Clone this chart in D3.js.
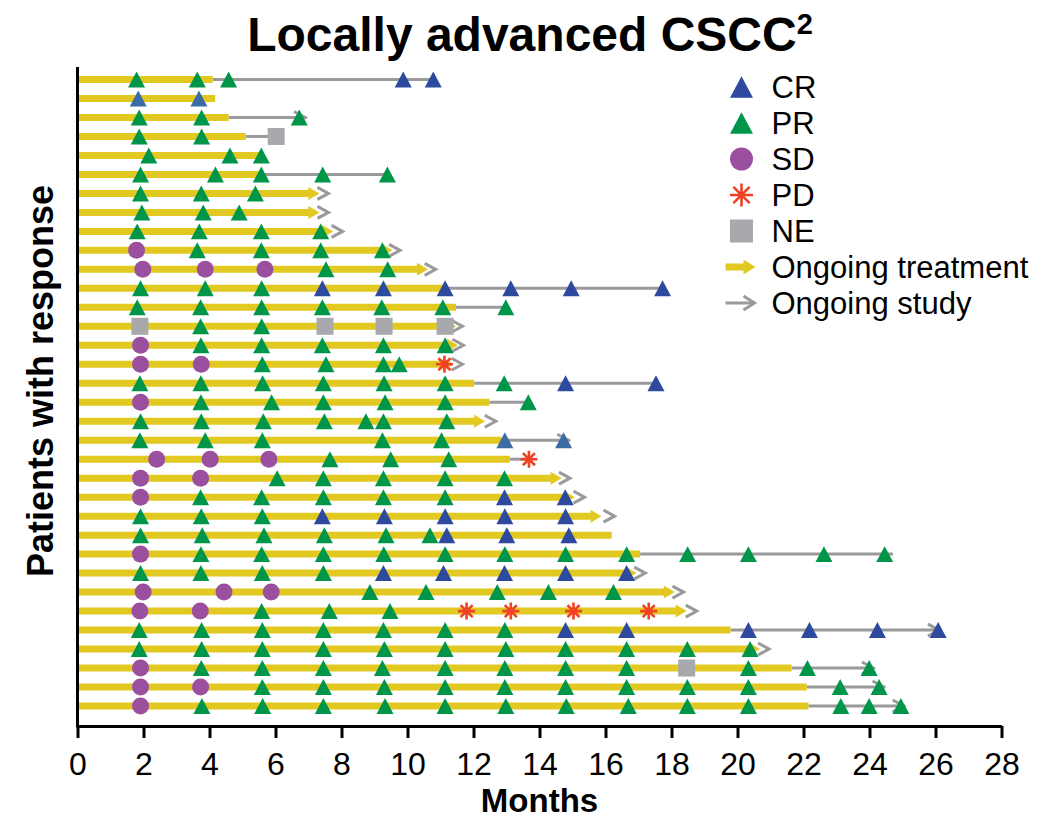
<!DOCTYPE html>
<html>
<head>
<meta charset="utf-8">
<script src="https://cdn.jsdelivr.net/npm/d3@7"></script>
<style>
  body { margin: 0; background: #fff; }
  svg { display: block; }
  text { font-family: "Liberation Sans", Arial, Helvetica, sans-serif; fill: #000; }
</style>
</head>
<body>
<svg id="chart" width="1043" height="820"></svg>
<script>
// months where the yellow (treatment) bar ends, top patient first
const treatEnd = [4.1, 4.17, 4.58, 5.1, 5.5, 5.57, 7.33, 7.33, 7.75, 9.55, 10.62, 11.08, 11.47, 11.47, 11.53, 11.4, 12.02,
  12.48, 12.35, 12.85, 13.1, 14.67, 15.07, 15.88, 16.19, 17.05, 16.94, 18.1, 18.46, 19.79, 20.68, 21.64, 22.1, 22.15];
// months where the grey (study follow-up) line ends
const studyEnd = [10.78, 4.17, 6.94, 6.02, 5.5, 9.39, 7.65, 7.65, 8.08, 9.82, 10.9, 17.73, 12.98, 11.71, 11.74, 11.71, 17.53,
  13.66, 12.72, 14.92, 13.68, 14.97, 15.41, 16.32, 16.19, 24.71, 17.25, 18.41, 18.81, 26.15, 21.0, 24.15, 24.47, 25.08];
const ongoingTreatment = [0,0,0,0,0,0,1,1,1,1,1,0,0,1,1,1,0,0,1,0,0,1,1,1,0,0,1,1,1,0,1,0,0,0];
const ongoingStudy     = [0,0,1,0,0,0,1,1,1,1,1,0,0,1,1,1,0,0,1,1,0,1,1,1,0,0,1,1,1,1,1,1,1,1];

// tumour assessments per patient: [month, response]
const responses = [
  [[1.79,"PR"],[3.63,"PR"],[4.58,"PR"],[9.87,"CR"],[10.78,"CR"]],
  [[1.84,"CRb"],[3.68,"CRb"]],
  [[1.87,"PR"],[3.76,"PR"],[6.72,"PR"]],
  [[1.87,"PR"],[3.76,"PR"],[6.02,"NE"]],
  [[2.16,"PR"],[4.62,"PR"],[5.57,"PR"]],
  [[1.91,"PR"],[4.18,"PR"],[5.57,"PR"],[7.43,"PR"],[9.39,"PR"]],
  [[1.91,"PR"],[3.75,"PR"],[5.39,"PR"]],
  [[1.95,"PR"],[3.81,"PR"],[4.9,"PR"]],
  [[1.81,"PR"],[3.69,"PR"],[5.57,"PR"],[7.37,"PR"]],
  [[1.79,"SD"],[3.63,"PR"],[5.57,"PR"],[7.37,"PR"],[9.24,"PR"]],
  [[1.98,"SD"],[3.87,"SD"],[5.68,"SD"],[7.53,"PR"],[9.4,"PR"]],
  [[1.91,"PR"],[3.87,"PR"],[5.58,"PR"],[7.42,"CR"],[9.27,"CR"],[11.14,"CR"],[13.13,"CR"],[14.96,"CR"],[17.73,"CR"]],
  [[1.81,"PR"],[3.73,"PR"],[5.58,"PR"],[7.42,"PR"],[9.22,"PR"],[11.07,"PR"],[12.98,"PR"]],
  [[1.89,"NE"],[3.73,"PR"],[5.58,"PR"],[7.5,"NE"],[9.29,"NE"],[11.14,"NE"]],
  [[1.91,"SD"],[3.74,"PR"],[5.58,"PR"],[7.42,"PR"],[9.27,"PR"],[11.14,"PR"]],
  [[1.91,"SD"],[3.75,"SD"],[5.6,"PR"],[7.53,"PR"],[9.27,"PR"],[9.75,"PR"],[11.12,"PD"]],
  [[1.89,"PR"],[3.74,"PR"],[5.61,"PR"],[7.45,"PR"],[9.29,"PR"],[11.14,"PR"],[12.93,"PR"],[14.79,"CR"],[17.53,"CR"]],
  [[1.91,"SD"],[3.74,"PR"],[5.88,"PR"],[7.45,"PR"],[9.32,"PR"],[11.14,"PR"],[13.66,"PR"]],
  [[1.91,"PR"],[3.75,"PR"],[5.63,"PR"],[7.48,"PR"],[8.74,"PR"],[9.27,"PR"],[11.19,"PR"]],
  [[1.89,"PR"],[3.87,"PR"],[5.6,"PR"],[9.24,"PR"],[11.03,"PR"],[12.95,"CRb"],[14.73,"CRb"]],
  [[2.4,"SD"],[4.02,"SD"],[5.8,"SD"],[7.65,"PR"],[9.49,"PR"],[11.25,"PR"],[13.68,"PD"]],
  [[1.91,"SD"],[3.73,"SD"],[6.05,"PR"],[7.45,"PR"],[9.27,"PR"],[11.14,"PR"],[12.94,"PR"]],
  [[1.91,"SD"],[3.73,"PR"],[5.58,"PR"],[7.45,"PR"],[9.27,"PR"],[11.14,"PR"],[12.94,"CR"],[14.78,"CR"]],
  [[1.91,"PR"],[3.75,"PR"],[5.6,"PR"],[7.42,"CR"],[9.3,"CR"],[11.14,"CR"],[12.95,"CR"],[14.79,"CR"]],
  [[1.91,"PR"],[3.78,"PR"],[5.65,"PR"],[7.48,"PR"],[9.35,"PR"],[10.68,"PR"],[11.19,"CR"],[13.01,"CR"],[14.89,"CR"]],
  [[1.91,"SD"],[3.74,"PR"],[5.58,"PR"],[7.45,"PR"],[9.28,"PR"],[11.14,"PR"],[12.95,"PR"],[14.79,"PR"],[16.64,"PR"],
   [18.49,"PR"],[20.33,"PR"],[22.62,"PR"],[24.46,"PR"]],
  [[1.91,"PR"],[3.74,"PR"],[5.6,"PR"],[7.45,"PR"],[9.27,"CR"],[11.09,"CR"],[12.94,"CR"],[14.79,"CR"],[16.64,"CR"]],
  [[1.99,"SD"],[4.44,"SD"],[5.87,"SD"],[8.86,"PR"],[10.56,"PR"],[12.72,"PR"],[14.27,"PR"],[16.24,"PR"]],
  [[1.89,"SD"],[3.72,"SD"],[5.58,"PR"],[7.63,"PR"],[9.47,"PR"],[11.79,"PD"],[13.13,"PD"],[15.03,"PD"],[17.31,"PD"]],
  [[1.87,"PR"],[3.76,"PR"],[5.6,"PR"],[7.45,"PR"],[9.27,"PR"],[11.14,"PR"],[12.95,"PR"],[14.79,"CR"],[16.64,"CR"],
   [20.33,"CR"],[22.18,"CR"],[24.24,"CR"],[26.08,"CR"]],
  [[1.87,"PR"],[3.76,"PR"],[5.6,"PR"],[7.45,"PR"],[9.3,"PR"],[11.14,"PR"],[12.98,"PR"],[14.79,"PR"],[16.64,"PR"],
   [18.48,"PR"],[20.38,"PR"]],
  [[1.91,"SD"],[3.75,"PR"],[5.6,"PR"],[7.45,"PR"],[9.24,"PR"],[11.14,"PR"],[12.95,"PR"],[14.79,"PR"],[16.64,"PR"],
   [18.46,"NE"],[20.33,"PR"],[22.12,"PR"],[23.99,"PR"]],
  [[1.91,"SD"],[3.73,"SD"],[5.6,"PR"],[7.45,"PR"],[9.3,"PR"],[11.14,"PR"],[12.95,"PR"],[14.79,"PR"],[16.64,"PR"],
   [18.48,"PR"],[20.33,"PR"],[23.11,"PR"],[24.29,"PR"]],
  [[1.91,"SD"],[3.77,"PR"],[5.61,"PR"],[7.45,"PR"],[9.32,"PR"],[11.14,"PR"],[12.98,"PR"],[14.81,"PR"],[16.69,"PR"],
   [18.48,"PR"],[20.33,"PR"],[23.13,"PR"],[23.99,"PR"],[24.95,"PR"]]
];

const monthTicks = [0, 2, 4, 6, 8, 10, 12, 14, 16, 18, 20, 22, 24, 26, 28];
const legendItems = ["CR", "PR", "SD", "PD", "NE", "Ongoing treatment", "Ongoing study"];

const colors = {
  CR: "#2e4a9e", CRb: "#3b6ca3", PR: "#00964a", SD: "#9b4f9f", PD: "#ef4123", NE: "#a7a9ac",
  treat: "#e2c922", study: "#9a9a9c"
};

const svg = d3.select("#chart");
const patients = treatEnd.map((d, i) => i + 1);

const x = d3.scaleLinear().domain([0, 28]).range([77.5, 1001.5]);
const y = d3.scalePoint().domain(patients).range([79.5, 706]);

const rows = patients.map((p, i) => ({
  p, t: treatEnd[i], s: studyEnd[i], onT: ongoingTreatment[i], onS: ongoingStudy[i]
}));

// marker shapes
function tri(w, h) { return `M0,${-h / 2}L${w / 2},${h / 2}L${-w / 2},${h / 2}Z`; }
function star(r) {
  return d3.range(4).map(k => {
    const a = k * Math.PI / 4, dx = r * Math.cos(a), dy = r * Math.sin(a);
    return `M${-dx},${-dy}L${dx},${dy}`;
  }).join("");
}
function drawMarker(g, code, size) {
  if (code === "SD") {
    g.append("circle").attr("r", size / 2).attr("fill", colors.SD);
  } else if (code === "NE") {
    g.append("rect").attr("x", -size / 2).attr("y", -size / 2).attr("width", size).attr("height", size)
      .attr("fill", colors.NE);
  } else if (code === "PD") {
    g.append("path").attr("d", star(size / 2)).attr("stroke", colors.PD).attr("stroke-width", 2.6)
      .attr("fill", "none");
  } else {
    g.append("path").attr("d", tri(size, size * 0.94)).attr("fill", colors[code]);
  }
}

// grey follow-up lines
svg.append("g").selectAll("line")
  .data(rows.filter(r => !r.onT && r.s > r.t))
  .join("line")
  .attr("x1", r => x(r.t)).attr("x2", r => x(r.s))
  .attr("y1", r => y(r.p)).attr("y2", r => y(r.p))
  .attr("stroke", colors.study).attr("stroke-width", 3);

// yellow treatment bars (shortened when an arrow head is added)
const headLen = 11;
svg.append("g").selectAll("line")
  .data(rows)
  .join("line")
  .attr("x1", x(0))
  .attr("x2", r => x(r.t) - (r.onT ? headLen - 1 : 0))
  .attr("y1", r => y(r.p)).attr("y2", r => y(r.p))
  .attr("stroke", colors.treat).attr("stroke-width", 7);

svg.append("g").selectAll("path")
  .data(rows.filter(r => r.onT))
  .join("path")
  .attr("transform", r => `translate(${x(r.t)},${y(r.p)})`)
  .attr("d", `M0,0L${-headLen},-6.5L${-headLen},6.5Z`)
  .attr("fill", colors.treat);

// grey chevrons for patients still in the study
svg.append("g").selectAll("path")
  .data(rows.filter(r => r.onS))
  .join("path")
  .attr("transform", r => `translate(${x(r.s) - 1.5},${y(r.p)})`)
  .attr("d", "M-11,-6L0,0L-11,6")
  .attr("fill", "none").attr("stroke", colors.study).attr("stroke-width", 3);

// response markers
const marks = responses.flatMap((list, i) => list.map(([t, code]) => ({ p: patients[i], t, code })));
svg.append("g").selectAll("g")
  .data(marks)
  .join("g")
  .attr("transform", d => `translate(${x(d.t)},${y(d.p)})`)
  .each(function (d) { drawMarker(d3.select(this), d.code, 17); });

// axes
svg.append("line")
  .attr("x1", x(0)).attr("x2", x(0)).attr("y1", 67).attr("y2", 727.5)
  .attr("stroke", "#000").attr("stroke-width", 3);

svg.append("g")
  .attr("transform", "translate(0,726)")
  .call(d3.axisBottom(x).tickValues(monthTicks).tickSize(12).tickPadding(14).tickSizeOuter(0))
  .call(g => g.select(".domain").attr("stroke-width", 3))
  .call(g => g.selectAll(".tick line").attr("stroke-width", 3))
  .call(g => g.selectAll(".tick text")
    .attr("font-size", 32).attr("font-family", "'Liberation Sans', Arial, sans-serif").attr("fill", "#000"));

svg.append("text")
  .attr("x", 539.5).attr("y", 812)
  .attr("text-anchor", "middle").attr("font-size", 33).attr("font-weight", "bold")
  .text("Months");

svg.append("text")
  .attr("transform", "translate(53,381) rotate(-90)")
  .attr("text-anchor", "middle").attr("font-size", 36).attr("font-weight", "bold")
  .text("Patients with response");

const title = svg.append("text")
  .attr("x", 530).attr("y", 51)
  .attr("text-anchor", "middle").attr("font-size", 48).attr("font-weight", "bold");
title.append("tspan").text("Locally advanced CSCC");
title.append("tspan").attr("font-size", 29).attr("dy", -17).text("2");

// legend
const legend = svg.append("g").selectAll("g")
  .data(legendItems)
  .join("g")
  .attr("transform", (d, i) => `translate(741.5,${87 + i * 36})`);

legend.each(function (d) {
  const g = d3.select(this);
  if (d === "Ongoing treatment") {
    g.append("line").attr("x1", -16).attr("x2", 3).attr("stroke", colors.treat).attr("stroke-width", 7);
    g.append("path").attr("d", "M14,0L2,-7.5L2,7.5Z").attr("fill", colors.treat);
  } else if (d === "Ongoing study") {
    g.append("line").attr("x1", -16).attr("x2", 12).attr("stroke", colors.study).attr("stroke-width", 3);
    g.append("path").attr("d", "M2,-7L13,0L2,7").attr("fill", "none")
      .attr("stroke", colors.study).attr("stroke-width", 3);
  } else {
    drawMarker(g, d, 23);
  }
  g.append("text").attr("x", 30).attr("y", 11).attr("font-size", 31).text(d);
});
</script>
</body>
</html>
